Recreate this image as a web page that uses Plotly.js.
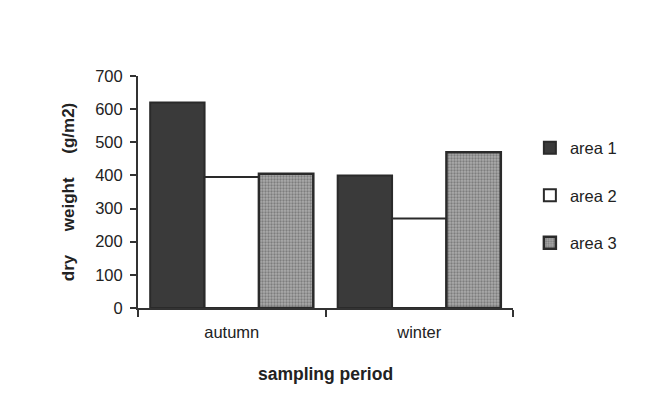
<!DOCTYPE html>
<html><head><meta charset="utf-8">
<script src="https://cdn.plot.ly/plotly-3.0.1.min.js"></script>
<style>body{margin:0;background:#fff}#c{width:670px;height:393px}</style>
</head><body><div id="c"></div>
<script>
const categories = ["autumn", "winter"];
const area1 = [620, 400];
const area2 = [395, 270];
const area3 = [405, 470];
const seriesNames = ["area 1", "area 2", "area 3"];

const line = {color: "#2a2a2a", width: 2};
const traces = [
  {type: "bar", name: seriesNames[0], x: categories, y: area1, legendgroup: "a",
   marker: {color: "#3a3a3a", line: line}},
  {type: "bar", name: seriesNames[1], x: categories, y: area2, legendgroup: "b",
   marker: {color: "#ffffff", line: line}},
  {type: "bar", name: seriesNames[2], x: categories, y: area3, legendgroup: "c",
   marker: {color: "#9a9a9a", line: {color: "#2a2a2a", width: 2.5},
     pattern: {shape: ".", fgcolor: "#505050", bgcolor: "#ababab", size: 3, solidity: 0.45, fillmode: "overlay"}}}
];

const layout = {
  width: 670, height: 393,
  margin: {l: 138, r: 157, t: 76, b: 85},
  paper_bgcolor: "#fff", plot_bgcolor: "#fff",
  font: {family: "Liberation Sans, Arial, sans-serif", color: "#222", size: 17},
  barmode: "group", bargap: 0.13, bargroupgap: 0,
  showlegend: true,
  legend: {x: 1.045, y: 0.765, xanchor: "left", yanchor: "top", traceorder: "grouped",
    tracegroupgap: 23, font: {size: 16.5, color: "#222"}, bgcolor: "rgba(0,0,0,0)"},
  xaxis: {type: "category", showline: true, linecolor: "#333", linewidth: 2,
    ticks: "outside", tickson: "boundaries", ticklen: 7, tickcolor: "#333", tickwidth: 2,
    showgrid: false, zeroline: false, tickfont: {size: 16.5}, ticklabelstandoff: 8,
    title: {text: "<b>sampling period</b>", font: {size: 17.5}, standoff: 28}},
  yaxis: {range: [0, 700], dtick: 100, showline: true, linecolor: "#333", linewidth: 2,
    ticks: "outside", ticklen: 6, tickcolor: "#333", tickwidth: 2,
    showgrid: false, zeroline: false, tickfont: {size: 16.5}, ticklabelstandoff: 4,
    title: {text: "<b>dry&nbsp;&nbsp;&nbsp;&nbsp;&nbsp;weight&nbsp;&nbsp;&nbsp;&nbsp;&nbsp;(g/m2)</b>", font: {size: 17}, standoff: 16}}
};
Plotly.newPlot("c", traces, layout, {displayModeBar: false, staticPlot: true});
</script></body></html>
